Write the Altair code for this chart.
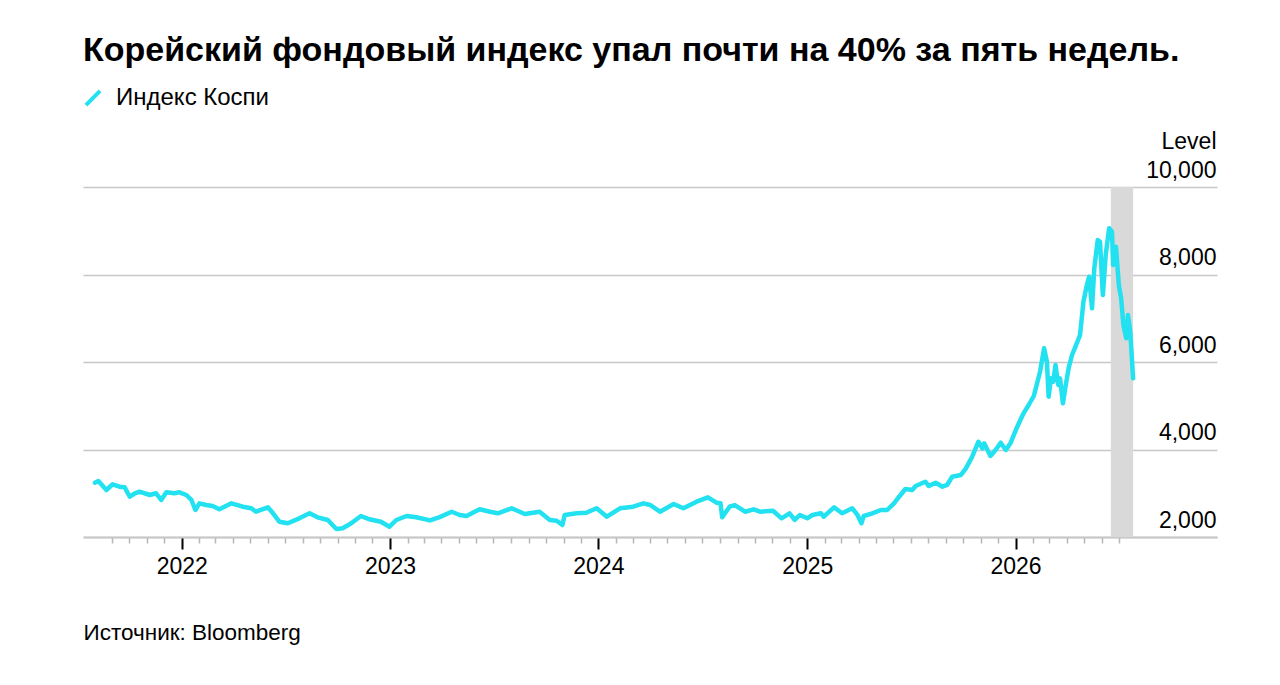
import altair as alt
import pandas as pd

FONT = "Liberation Sans"
LINE_COLOR = "#22e1f0"

series_name = "Индекс Коспи"
title_text = "Корейский фондовый индекс упал почти на 40% за пять недель."
source_text = "Источник: Bloomberg"

dates_2021 = ["2021-08-02", "2021-08-08", "2021-08-22", "2021-09-02", "2021-09-14", "2021-09-23",
              "2021-10-02", "2021-10-11", "2021-10-19", "2021-11-06", "2021-11-17", "2021-11-26",
              "2021-12-05", "2021-12-19", "2021-12-28"]
values_2021 = [3241, 3280, 3074, 3205, 3150, 3136, 2921, 2999, 3035, 2960, 2999, 2846,
               3022, 2999, 3022]

dates_2022 = ["2022-01-09", "2022-01-18", "2022-01-25", "2022-02-01", "2022-02-13", "2022-02-24",
              "2022-03-08", "2022-03-29", "2022-04-18", "2022-05-03", "2022-05-11", "2022-06-01",
              "2022-06-10", "2022-06-21", "2022-07-06", "2022-07-26", "2022-08-13", "2022-08-27",
              "2022-09-14", "2022-09-29", "2022-10-10", "2022-10-25", "2022-11-11", "2022-11-26",
              "2022-12-16", "2022-12-31"]
values_2022 = [2960, 2846, 2617, 2770, 2731, 2709, 2633, 2770, 2693, 2656, 2578, 2679,
               2542, 2350, 2313, 2427, 2542, 2450, 2389, 2183, 2199, 2313, 2480, 2405,
               2350, 2235]

dates_2023 = ["2023-01-12", "2023-01-30", "2023-02-16", "2023-03-12", "2023-03-29", "2023-04-19",
              "2023-05-03", "2023-05-15", "2023-06-07", "2023-06-25", "2023-07-09", "2023-08-02",
              "2023-08-25", "2023-09-20", "2023-10-08", "2023-10-20", "2023-10-30", "2023-11-03",
              "2023-11-24", "2023-12-11", "2023-12-29"]
values_2023 = [2389, 2480, 2450, 2380, 2455, 2578, 2503, 2480, 2633, 2578, 2542, 2656,
               2526, 2578, 2389, 2373, 2274, 2503, 2542, 2555, 2656]

dates_2024 = ["2024-01-16", "2024-02-08", "2024-03-02", "2024-03-20", "2024-04-01", "2024-04-18",
              "2024-05-12", "2024-05-29", "2024-06-21", "2024-07-11", "2024-07-26", "2024-08-02",
              "2024-08-05", "2024-08-18", "2024-08-27", "2024-09-14", "2024-09-29", "2024-10-10",
              "2024-11-02", "2024-11-17", "2024-12-01", "2024-12-10", "2024-12-19"]
values_2024 = [2464, 2656, 2693, 2770, 2731, 2578, 2754, 2656, 2807, 2907, 2784, 2770,
               2450, 2693, 2731, 2578, 2633, 2578, 2601, 2427, 2542, 2389, 2503]

dates_2025 = ["2025-01-01", "2025-01-10", "2025-01-25", "2025-01-30", "2025-02-17", "2025-03-03",
              "2025-03-21", "2025-03-30", "2025-04-06", "2025-04-10", "2025-04-25", "2025-05-10",
              "2025-05-21", "2025-06-02", "2025-06-11", "2025-06-22", "2025-07-04", "2025-07-10",
              "2025-07-27", "2025-08-02", "2025-08-14", "2025-08-26", "2025-09-03", "2025-09-12",
              "2025-09-27", "2025-10-06", "2025-10-17", "2025-10-28", "2025-11-04", "2025-11-07",
              "2025-11-18", "2025-11-27", "2025-12-06", "2025-12-15", "2025-12-23"]
values_2025 = [2427, 2503, 2542, 2464, 2679, 2542, 2656, 2503, 2313, 2480, 2542, 2617,
               2617, 2770, 2921, 3097, 3074, 3166, 3264, 3166, 3241, 3150, 3189, 3378,
               3417, 3570, 3835, 4178, 4027, 4142, 3851, 3989, 4155, 3989, 4142]

dates_2026 = ["2026-01-04", "2026-01-15", "2026-01-24", "2026-02-02", "2026-02-13", "2026-02-20",
              "2026-02-25", "2026-02-28", "2026-03-04", "2026-03-08", "2026-03-12", "2026-03-17",
              "2026-03-20", "2026-03-25", "2026-03-30", "2026-04-04", "2026-04-10", "2026-04-16",
              "2026-04-24", "2026-04-30", "2026-05-06", "2026-05-10", "2026-05-15", "2026-05-19",
              "2026-05-25", "2026-05-29", "2026-06-03", "2026-06-08", "2026-06-14", "2026-06-19",
              "2026-06-21", "2026-06-26", "2026-07-01", "2026-07-05", "2026-07-09", "2026-07-14",
              "2026-07-17", "2026-07-21", "2026-07-26"]
values_2026 = [4521, 4827, 5017, 5223, 5778, 6313, 6007, 5207, 5627, 5550, 5931, 5474,
               5627, 5056, 5474, 5856, 6160, 6350, 6617, 7378, 7760, 7950, 7227, 8142,
               8789, 8750, 7531, 8446, 9056, 8978, 8217, 8636, 7760, 7456, 6846, 6542,
               7074, 6693, 5627]

band_start = ["2026-06-17"]
band_end = ["2026-07-26"]

y_ticks = [2000, 4000, 6000, 8000, 10000]
x_domain_start = (2021, 7, 12)
x_domain_end = (2026, 12, 20)
first_tick_month = "2021-09-01"
last_tick_month = "2026-07-01"

dates = dates_2021 + dates_2022 + dates_2023 + dates_2024 + dates_2025 + dates_2026
values = values_2021 + values_2022 + values_2023 + values_2024 + values_2025 + values_2026

df = pd.DataFrame({"date": dates, "value": values, "series": series_name})
band_df = pd.DataFrame({"start": band_start, "end": band_end})

tick_vals = [alt.DateTime(year=d.year, month=d.month, date=1)
             for d in pd.date_range(first_tick_month, last_tick_month, freq="MS")]

x_scale = alt.Scale(
    domain=[alt.DateTime(year=x_domain_start[0], month=x_domain_start[1], date=x_domain_start[2]),
            alt.DateTime(year=x_domain_end[0], month=x_domain_end[1], date=x_domain_end[2])],
    nice=False,
)

x_axis = alt.Axis(
    values=tick_vals,
    labelExpr="month(datum.value) == 0 ? timeFormat(datum.value, '%Y') : ''",
    labelOverlap=False,
    labelFlush=False,
    labelBound=False,
    labelFontSize=23,
    labelFont=FONT,
    labelColor="#000000",
    labelPadding=6,
    labelBaseline="top",
    tickSize={"condition": {"test": "month(datum.value) == 0", "value": 12}, "value": 6},
    tickColor={"condition": {"test": "month(datum.value) == 0", "value": "#000000"}, "value": "#b5b5b5"},
    tickWidth={"condition": {"test": "month(datum.value) == 0", "value": 2}, "value": 1.5},
    domain=True,
    domainColor="#c8c8c8",
    domainWidth=2,
    grid=False,
    title=source_text,
    titleFont=FONT,
    titleFontSize=22.5,
    titleFontWeight="normal",
    titleColor="#000000",
    titleAnchor="start",
    titleAlign="left",
    titleBaseline="alphabetic",
    titleX=0,
    titleY=102,
)

y_axis = alt.Axis(
    orient="right",
    values=y_ticks,
    format=",.0f",
    domain=False,
    ticks=False,
    tickSize=0,
    grid=True,
    gridColor="#c8c8c8",
    gridWidth=1.6,
    labelAlign="right",
    labelBaseline="alphabetic",
    labelPadding=-1,
    labelOffset=-10,
    labelFontSize=23,
    labelFont=FONT,
    labelColor="#000000",
    title="Level",
    titleAngle=0,
    titleAlign="right",
    titleBaseline="alphabetic",
    titleFont=FONT,
    titleFontSize=23,
    titleFontWeight="normal",
    titleColor="#000000",
    titleX=-1,
    titleY=-39,
)

band = alt.Chart(band_df).mark_rect(color="#d9d9d9").encode(
    x=alt.X("start:T", scale=x_scale, axis=x_axis),
    x2="end:T",
)

line = alt.Chart(df).mark_line(strokeWidth=4.5, strokeJoin="round", strokeCap="round").encode(
    x=alt.X("date:T", scale=x_scale, axis=x_axis),
    y=alt.Y("value:Q", scale=alt.Scale(domain=[2000, 10000], nice=False, zero=False), axis=y_axis),
    color=alt.Color(
        "series:N",
        scale=alt.Scale(range=[LINE_COLOR]),
        legend=alt.Legend(
            orient="none",
            legendX=-2,
            legendY=-101,
            title=None,
            symbolType="M-1,1L1,-1",
            symbolStrokeWidth=4,
            symbolSize=200,
            labelFont=FONT,
            labelFontSize=24,
            labelColor="#000000",
            labelOffset=11,
        ),
    ),
)

chart = alt.layer(band, line).properties(
    width=1134,
    height=350,
    autosize="none",
    background="#ffffff",
    padding={"left": 75, "top": 179, "right": 50, "bottom": 140},
    title=alt.TitleParams(
        text=title_text,
        anchor="start",
        frame="group",
        font=FONT,
        fontSize=34,
        fontWeight="bold",
        color="#000000",
        offset=18,
    ),
).configure_view(stroke="transparent", strokeWidth=0)

chart.save("out.html", embed_options={"renderer": "svg", "actions": False})
